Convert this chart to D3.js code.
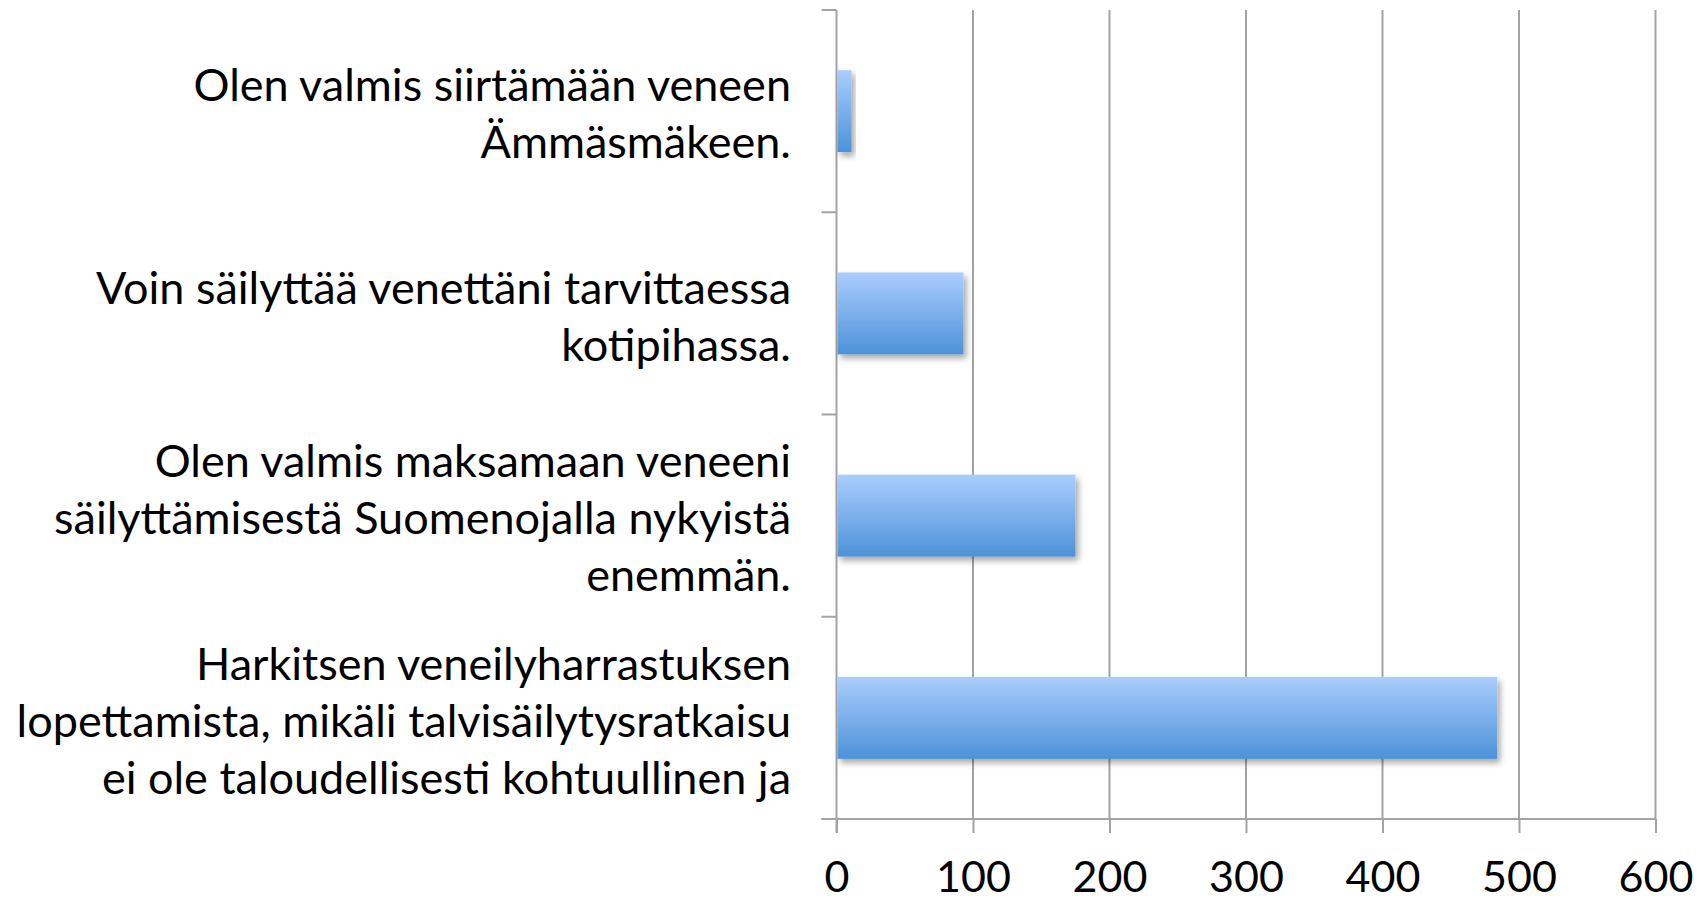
<!DOCTYPE html>
<html><head><meta charset="utf-8">
<script src="https://cdn.jsdelivr.net/npm/d3@7"></script>
<style>body{margin:0;background:#fff;} svg{display:block;}</style>
</head><body>
<svg id="c" width="1706" height="902"></svg>
<script>
const categories = [
  ["Olen valmis siirtämään veneen", "Ämmäsmäkeen."],
  ["Voin säilyttää venettäni tarvittaessa", "kotipihassa."],
  ["Olen valmis maksamaan veneeni", "säilyttämisestä Suomenojalla nykyistä", "enemmän."],
  ["Harkitsen veneilyharrastuksen", "lopettamista, mikäli talvisäilytysratkaisu", "ei ole taloudellisesti kohtuullinen ja"]
];
const values = [11, 93, 175, 484];
const xTicks = [0, 100, 200, 300, 400, 500, 600];

(function () {
const svg = d3.select("#c");
const pLeft = 836.5, pRight = 1655.5, pTop = 10, pBottom = 819;
const grey = "#a3a3a3";
const font = "Lato, 'Open Sans', sans-serif";

const x = d3.scaleLinear().domain([0, 600]).range([pLeft, pRight]);
const y = d3.scaleBand().domain(d3.range(categories.length)).range([pTop, pBottom]).paddingInner(0.595).paddingOuter(0.2975);

const defs = svg.append("defs");
const g = defs.append("linearGradient").attr("id", "bg").attr("x1", 0).attr("y1", 0).attr("x2", 0).attr("y2", 1);
g.append("stop").attr("offset", "0%").attr("stop-color", "#aacdff");
g.append("stop").attr("offset", "100%").attr("stop-color", "#4d92d8");
const f = defs.append("filter").attr("id", "sh").attr("x", "-20%").attr("y", "-20%").attr("width", "150%").attr("height", "160%");
f.append("feDropShadow").attr("dx", 3).attr("dy", 4).attr("stdDeviation", 3).attr("flood-color", "#000").attr("flood-opacity", 0.35);

const xAxis = d3.axisBottom(x).tickValues(xTicks).tickSize(14).tickPadding(25).tickFormat(d3.format("d"));
const ax = svg.append("g").attr("transform", `translate(0,${pBottom})`).call(xAxis);
ax.select(".domain").remove();
ax.selectAll(".tick line").attr("stroke", grey).attr("stroke-width", 2);
ax.selectAll(".tick text").attr("font-family", font).attr("font-size", 43).attr("fill", "#000").attr("dy", "0.8em");

svg.append("g").selectAll("line").data(xTicks.filter(d => d > 0)).join("line")
  .attr("x1", d => x(d)).attr("x2", d => x(d)).attr("y1", pTop).attr("y2", pBottom)
  .attr("stroke", grey).attr("stroke-width", 2);

svg.append("line").attr("x1", pLeft - 15).attr("x2", pRight).attr("y1", pBottom).attr("y2", pBottom)
  .attr("stroke", grey).attr("stroke-width", 2);
svg.append("line").attr("x1", pLeft).attr("x2", pLeft).attr("y1", pTop).attr("y2", pBottom + 14)
  .attr("stroke", grey).attr("stroke-width", 2);
const bounds = d3.range(categories.length + 1).map(i => pTop + i * (pBottom - pTop) / categories.length);
svg.append("g").selectAll("line").data(bounds).join("line")
  .attr("x1", pLeft - 15).attr("x2", pLeft).attr("y1", d => d).attr("y2", d => d)
  .attr("stroke", grey).attr("stroke-width", 2);

svg.append("g").selectAll("rect").data(values).join("rect")
  .attr("x", x(0) + 1).attr("y", (d, i) => y(i))
  .attr("width", d => x(d) - x(0) - 1).attr("height", y.bandwidth())
  .attr("fill", "url(#bg)").attr("filter", "url(#sh)");

const lineH = 57;
const lab = svg.append("g");
categories.forEach((lines, i) => {
  const cy = y(i) + y.bandwidth() / 2 + 3;
  const t = lab.append("text").attr("text-anchor", "end").attr("font-family", font)
    .attr("font-size", 45).attr("fill", "#000");
  lines.forEach((s, j) => {
    t.append("tspan").attr("x", 791)
      .attr("y", cy + (j - (lines.length - 1) / 2) * lineH).attr("dy", "0.35em").text(s);
  });
});
})();
</script>
</body></html>
